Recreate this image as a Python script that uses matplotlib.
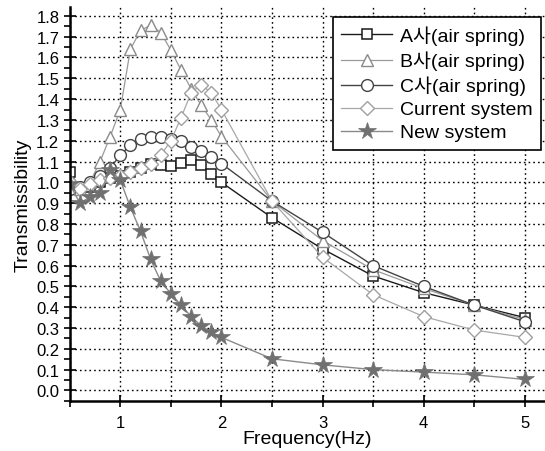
import matplotlib
matplotlib.use("Agg")
import matplotlib.pyplot as plt
from matplotlib.ticker import MultipleLocator, FormatStrFormatter

plt.rcParams['font.family'] = ['Liberation Sans', 'Noto Sans CJK KR', 'DejaVu Sans']

freq = [0.5, 0.6, 0.7, 0.8, 0.9, 1.0, 1.1, 1.2, 1.3, 1.4, 1.5, 1.6, 1.7, 1.8, 1.9, 2.0,
        2.5, 3.0, 3.5, 4.0, 4.5, 5.0]

a_air = [1.05, 0.97, 0.98, 1.00, 1.02, 1.03, 1.05, 1.07, 1.09, 1.085, 1.08, 1.095, 1.105, 1.085, 1.04, 1.00,
         0.83, 0.68, 0.55, 0.47, 0.41, 0.35]
b_air = [0.98, 0.97, 1.00, 1.10, 1.22, 1.35, 1.64, 1.73, 1.755, 1.72, 1.635, 1.54, 1.45, 1.37, 1.30, 1.22,
         0.91, 0.72, 0.58, 0.49, 0.41, 0.34]
c_air = [0.97, 0.98, 1.00, 1.03, 1.07, 1.13, 1.18, 1.21, 1.22, 1.22, 1.21, 1.20, 1.17, 1.15, 1.12, 1.09,
         0.91, 0.76, 0.60, 0.50, 0.41, 0.33]
current = [1.00, 0.97, 0.99, 1.01, 1.02, 1.03, 1.05, 1.07, 1.09, 1.13, 1.20, 1.31, 1.43, 1.47, 1.43, 1.35,
           0.91, 0.64, 0.46, 0.355, 0.29, 0.255]
new = [0.99, 0.90, 0.93, 0.95, 1.06, 1.01, 0.88, 0.765, 0.63, 0.525, 0.465, 0.41, 0.355, 0.31, 0.28, 0.255,
       0.152, 0.123, 0.10, 0.088, 0.075, 0.053]

labels = ['A사(air spring)', 'B사(air spring)', 'C사(air spring)', 'Current system', 'New system']

fig = plt.figure(figsize=(5.45, 4.52), dpi=100)
ax = fig.add_axes([0.128, 0.111, 0.872, 0.871])

ax.plot(freq, a_air, color='#1a1a1a', lw=1.0, marker='s', ms=7.5, mfc='white', mec='#1a1a1a', mew=1.1, label=labels[0])
ax.plot(freq, b_air, color='#9a9a9a', lw=0.9, marker='^', ms=9, mfc='white', mec='#8a8a8a', mew=1.0, label=labels[1])
ax.plot(freq, c_air, color='#444444', lw=1.0, marker='o', ms=8.5, mfc='white', mec='#444444', mew=1.0, label=labels[2])
ax.plot(freq, current, color='#a8a8a8', lw=0.9, marker='D', ms=7.5, mfc='white', mec='#a0a0a0', mew=1.0, label=labels[3])
ax.plot(freq, new, color='#8a8a8a', lw=1.0, marker='*', ms=13, mfc='#707070', mec='#707070', mew=0.5, label=labels[4])

ax.set_xlim(0.5, 5.2)
ax.set_ylim(-0.05, 1.842)
ax.xaxis.set_major_locator(MultipleLocator(1))
ax.xaxis.set_minor_locator(MultipleLocator(0.5))
ax.yaxis.set_minor_locator(MultipleLocator(0.05))
ax.set_yticks([i / 10 for i in range(0, 19)])
ax.yaxis.set_major_formatter(FormatStrFormatter('%.1f'))

ax.grid(True, which='major', axis='y', color='black', linestyle=(0, (1.2, 2.2)), lw=1.0)
ax.grid(True, which='both', axis='x', color='black', linestyle=(0, (1.2, 2.2)), lw=1.0)
ax.set_axisbelow(True)

for s in ['top', 'right']:
    ax.spines[s].set_visible(False)
for s in ['left', 'bottom']:
    ax.spines[s].set_linewidth(1.8)

ax.tick_params(which='major', direction='inout', length=8, width=1.2, labelsize=12)
ax.tick_params(which='minor', direction='out', length=4, width=1.2)
ax.tick_params(axis='x', pad=6)

ax.set_xlabel('Frequency(Hz)', fontsize=14, labelpad=0)
ax.set_ylabel('Transmissibility', fontsize=14, labelpad=3)

leg = ax.legend(loc='upper right', bbox_to_anchor=(1.0, 0.985), fontsize=14, frameon=True,
                fancybox=False, edgecolor='black', framealpha=1.0, handlelength=2.6,
                borderpad=0.45, labelspacing=0.28, handletextpad=0.4, borderaxespad=0.2)
leg.get_frame().set_linewidth(1.2)

fig.savefig('out.png', dpi=100)
